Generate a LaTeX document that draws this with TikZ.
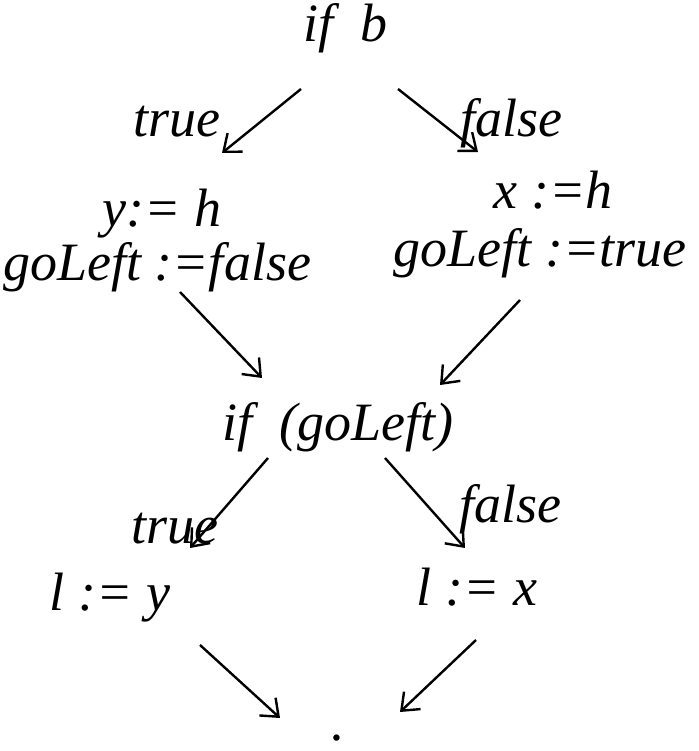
\documentclass[tikz,border=0pt]{standalone}
\usepackage{fontspec}
\setmainfont{Liberation Serif}
\usetikzlibrary{arrows.meta}

\tikzset{
    code/.style={font=\fontsize{54}{60}\selectfont\itshape, inner sep=0pt, anchor=base},
    flow/.style={line width=2.4pt, -{Straight Barb[length=15pt, width=24pt, line width=2.4pt]}},
}

\begin{document}
\begin{tikzpicture}[x=1pt, y=-1pt]
    \useasboundingbox (0,0) rectangle (698,751);

    % first test
    \node[code] (ifb) at (345, 42) {if~~b};
    \node[code] (trueA) at (177, 137) {true};
    \node[code] (falseA) at (511, 137) {false};

    % the two branches
    \node[code] (sety) at (162, 226) {y:= h};
    \node[code] (goF) at (157, 280) {goLeft :=false};
    \node[code] (setx) at (553, 208) {x :=h};
    \node[code] (goT) at (540, 266) {goLeft :=true};

    % second test
    \node[code] (ifgo) at (338, 440) {if~~(goLeft)};
    \node[code] (trueB) at (175, 543) {true};
    \node[code] (falseB) at (510, 522) {false};

    % assignments to l
    \node[code] (ly) at (110, 610) {l := y};
    \node[code] (lx) at (477, 605) {l := x};

    % join point
    \node[code] (join) at (338, 740) {.};

    % arrow ends
    \coordinate (ifbL) at (301, 89);
    \coordinate (ifbR) at (398, 89);
    \coordinate (syIn) at (222, 153);
    \coordinate (sxIn) at (478, 152);
    \coordinate (goFOut) at (180, 292);
    \coordinate (goTOut) at (520, 300);
    \coordinate (ifgoInL) at (262, 378);
    \coordinate (ifgoInR) at (440, 385);
    \coordinate (ifgoL) at (268, 458);
    \coordinate (ifgoR) at (385, 458);
    \coordinate (lyIn) at (190, 548);
    \coordinate (lxIn) at (465, 548);
    \coordinate (lyOut) at (200, 645);
    \coordinate (lxOut) at (476, 640);
    \coordinate (joinL) at (280, 718);
    \coordinate (joinR) at (400, 712);

    \draw[flow] (ifbL) -- (syIn);
    \draw[flow] (ifbR) -- (sxIn);
    \draw[flow] (goFOut) -- (ifgoInL);
    \draw[flow] (goTOut) -- (ifgoInR);
    \draw[flow] (ifgoL) -- (lyIn);
    \draw[flow] (ifgoR) -- (lxIn);
    \draw[flow] (lyOut) -- (joinL);
    \draw[flow] (lxOut) -- (joinR);
\end{tikzpicture}
\end{document}
